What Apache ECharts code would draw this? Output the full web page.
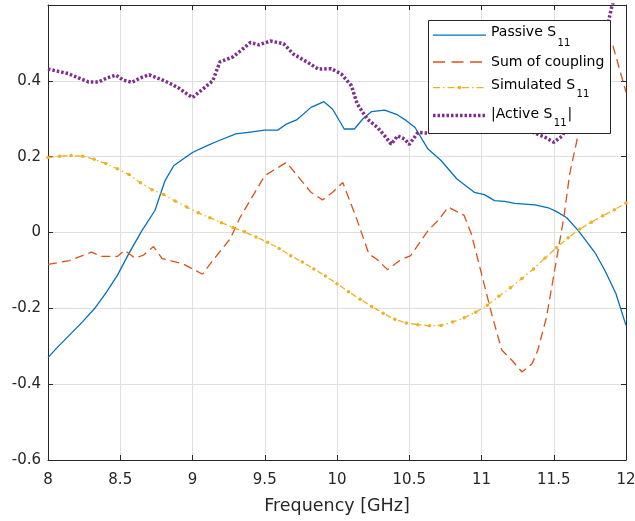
<!DOCTYPE html>
<html>
<head>
<meta charset="utf-8">
<title>S11 comparison</title>
<script src="https://cdn.jsdelivr.net/npm/echarts@6/dist/echarts.min.js"></script>
<style>
  html, body { margin: 0; padding: 0; background: #ffffff; }
  #chart { width: 635px; height: 521px; }
</style>
</head>
<body>
<div id="chart"></div>
<script>
// Frequency sweep (GHz) and reflection values for each curve
const passiveFreq = [8.00, 8.06, 8.15, 8.24, 8.33, 8.40, 8.48, 8.56, 8.65, 8.74, 8.81, 8.87, 8.94, 9.00, 9.09,
  9.18, 9.30, 9.40, 9.50, 9.59, 9.65, 9.72, 9.82, 9.91, 9.97, 10.05, 10.12, 10.18, 10.24, 10.33, 10.42,
  10.48, 10.54, 10.63, 10.72, 10.83, 10.95, 11.02, 11.09, 11.16, 11.23, 11.37, 11.47, 11.52, 11.59, 11.67,
  11.79, 11.86, 11.93, 12.00];
const passiveS11 = [-0.33, -0.305, -0.27, -0.235, -0.197, -0.16, -0.113, -0.055, 0.005, 0.058, 0.137, 0.176, 0.195, 0.211, 0.227,
  0.242, 0.26, 0.265, 0.27, 0.27, 0.286, 0.297, 0.33, 0.345, 0.325, 0.273, 0.273, 0.30, 0.319, 0.323, 0.31,
  0.295, 0.277, 0.22, 0.19, 0.141, 0.106, 0.10, 0.084, 0.082, 0.077, 0.073, 0.064, 0.055, 0.039, 0.005,
  -0.056, -0.105, -0.161, -0.245];

const couplingFreq = [8.00, 8.15, 8.30, 8.37, 8.48, 8.53, 8.60, 8.66, 8.73, 8.79, 8.93, 9.07, 9.14, 9.26, 9.33,
  9.50, 9.65, 9.82, 9.90, 9.97, 10.04, 10.14, 10.22, 10.28, 10.35, 10.44, 10.51, 10.63, 10.70, 10.77,
  10.88, 10.93, 11.00, 11.07, 11.14, 11.21, 11.28, 11.35, 11.39, 11.45, 11.51, 11.57, 11.61, 11.66,
  11.79, 11.91, 12.00];
const couplingSum = [-0.084, -0.074, -0.052, -0.063, -0.063, -0.047, -0.067, -0.06, -0.037, -0.069, -0.082, -0.11, -0.074, -0.017, 0.04,
  0.15, 0.185, 0.106, 0.086, 0.106, 0.132, 0.032, -0.056, -0.072, -0.098, -0.072, -0.061, 0.005, 0.032, 0.067,
  0.045, -0.004, -0.109, -0.214, -0.31, -0.337, -0.368, -0.346, -0.31, -0.223, -0.091, 0.04, 0.154, 0.242,
  0.53, 0.492, 0.37];

const simFreq = [8.00, 8.08, 8.16, 8.24, 8.32, 8.40, 8.48, 8.56, 8.64, 8.72, 8.80, 8.88, 8.96, 9.04, 9.12, 9.20,
  9.28, 9.36, 9.44, 9.52, 9.60, 9.68, 9.76, 9.84, 9.92, 10.00, 10.08, 10.16, 10.24, 10.32, 10.40, 10.48,
  10.56, 10.64, 10.72, 10.80, 10.88, 10.96, 11.04, 11.12, 11.20, 11.28, 11.36, 11.44, 11.52, 11.60, 11.68,
  11.76, 11.84, 11.92, 12.00];
const simS11 = [0.198, 0.201, 0.203, 0.201, 0.193, 0.182, 0.168, 0.153, 0.131, 0.113, 0.100, 0.083, 0.067, 0.052, 0.039, 0.026,
  0.013, 0.002, -0.012, -0.026, -0.042, -0.061, -0.078, -0.096, -0.115, -0.135, -0.156, -0.176, -0.195, -0.213, -0.229, -0.239,
  -0.243, -0.246, -0.245, -0.236, -0.225, -0.210, -0.192, -0.168, -0.146, -0.121, -0.096, -0.067, -0.040, -0.014, 0.009,
  0.027, 0.044, 0.060, 0.078];

const activeFreq = [8.00, 8.07, 8.14, 8.21, 8.28, 8.35, 8.41, 8.47, 8.52, 8.58, 8.64, 8.70, 8.78, 8.84, 8.90, 8.96,
  9.00, 9.07, 9.14, 9.19, 9.28, 9.36, 9.40, 9.46, 9.54, 9.63, 9.70, 9.80, 9.87, 9.96, 10.03, 10.10, 10.14,
  10.21, 10.28, 10.33, 10.375, 10.42, 10.47, 10.50, 10.56, 10.63, 10.75, 10.90, 11.05, 11.20, 11.35, 11.44,
  11.50, 11.56, 11.70, 11.80, 11.88, 11.90, 12.00];
const activeS11 = [0.431, 0.425, 0.419, 0.408, 0.397, 0.397, 0.408, 0.415, 0.402, 0.396, 0.408, 0.416, 0.404, 0.394, 0.382, 0.366,
  0.356, 0.378, 0.40, 0.45, 0.463, 0.488, 0.501, 0.495, 0.505, 0.498, 0.47, 0.448, 0.431, 0.432, 0.418, 0.387, 0.339,
  0.299, 0.277, 0.255, 0.233, 0.255, 0.246, 0.232, 0.264, 0.262, 0.275, 0.295, 0.305, 0.29, 0.265, 0.251,
  0.238, 0.255, 0.38, 0.47, 0.558, 0.593, 0.72];

// Axis ticks
const xTicks = { min: 8, max: 12, step: 0.5 };
const yTicks = { min: -0.6, max: 0.6, step: 0.2 };

// Legend entries: main text and subscript
const legendMain = ['Passive S', 'Sum of coupling', 'Simulated S', '|Active S'];
const legendSub = ['11', '', '11', '11'];
const legendTail = ['', '', '', '|'];

const zip = (xs, ys) => xs.map((x, i) => [x, ys[i]]);

const FONT = 'DejaVu Sans';
const INK = '#262626';
const colors = ['#0072BD', '#D95319', '#EDB120', '#7E2F8E'];
const widths = [1.3, 1.3, 1.3, 3.5];
const plotDash = ['solid', [9, 5], [6, 3, 1.5, 3], [2.5, 2]];
const keyDash = [null, [12, 6.5], [7, 3, 1.5, 3], [2.5, 2]];

// Legend box geometry (pixels)
const key = {
  box: { x: 428.5, y: 20.5, w: 182, h: 113 },
  lineX1: 433, lineX2: 486, textX: 491,
  lineY: [35.2, 62, 87.6, 115.4],
  textY: [32.6, 62, 85, 114.6],
  subY: [43, 0, 94, 123.7],
  mainFont: '14px "DejaVu Sans"',
  subFont: '10px "DejaVu Sans"'
};

const measure = (() => {
  const ctx = document.createElement('canvas').getContext('2d');
  return (text, font) => { ctx.font = font; return ctx.measureText(text).width; };
})();

function legendGraphics() {
  const els = [{
    type: 'rect', z: 100, silent: true,
    shape: { x: key.box.x, y: key.box.y, width: key.box.w, height: key.box.h },
    style: { fill: '#ffffff', stroke: INK, lineWidth: 1 }
  }];
  legendMain.forEach((label, i) => {
    const y = key.lineY[i];
    els.push({
      type: 'line', z: 101, silent: true,
      shape: { x1: key.lineX1, y1: y, x2: key.lineX2, y2: y },
      style: { stroke: colors[i], lineWidth: widths[i], lineDash: keyDash[i] || null, lineCap: 'butt' }
    });
    if (i === 2) {
      els.push({
        type: 'circle', z: 102, silent: true,
        shape: { cx: (key.lineX1 + key.lineX2) / 2, cy: y, r: 1.8 },
        style: { fill: colors[2] }
      });
    }
    els.push({
      type: 'text', z: 101, silent: true,
      style: { x: key.textX, y: key.textY[i], text: label, font: key.mainFont, fill: '#000000', verticalAlign: 'middle', align: 'left' }
    });
    if (legendSub[i]) {
      const subX = key.textX + measure(label, key.mainFont) + 1.5;
      els.push({
        type: 'text', z: 101, silent: true,
        style: { x: subX, y: key.subY[i], text: legendSub[i], font: key.subFont, fill: '#000000', verticalAlign: 'middle', align: 'left' }
      });
      if (legendTail[i]) {
        els.push({
          type: 'text', z: 101, silent: true,
          style: { x: subX + measure(legendSub[i], key.subFont) + 1, y: key.textY[i], text: legendTail[i], font: key.mainFont, fill: '#000000', verticalAlign: 'middle', align: 'left' }
        });
      }
    }
  });
  return els;
}

const chart = echarts.init(document.getElementById('chart'), null, { renderer: 'canvas' });

const frameAxis = (extra) => Object.assign({
  type: 'value',
  axisLine: { show: true, onZero: false, lineStyle: { color: INK, width: 1 } },
  axisTick: { show: true, inside: true, length: 5, lineStyle: { color: INK, width: 1 } },
  splitLine: { show: false },
  axisLabel: { show: false }
}, extra);

const seriesNames = ['Passive S11', 'Sum of coupling', 'Simulated S11', '|Active S11|'];
const seriesData = [zip(passiveFreq, passiveS11), zip(couplingFreq, couplingSum), zip(simFreq, simS11), zip(activeFreq, activeS11)];

chart.setOption({
  animation: false,
  backgroundColor: '#ffffff',
  color: colors,
  grid: {
    left: 48, right: 9, top: 5, bottom: 61,
    containLabel: false,
    outerBoundsMode: 'none'
  },
  legend: { show: false },
  xAxis: [
    frameAxis({
      position: 'bottom',
      min: xTicks.min, max: xTicks.max, interval: xTicks.step,
      name: 'Frequency [GHz]',
      nameLocation: 'middle',
      nameGap: 37,
      nameTextStyle: { fontFamily: FONT, fontSize: 17.5, color: INK },
      axisLabel: { show: true, margin: 13, fontFamily: FONT, fontSize: 15, color: INK },
      splitLine: { show: true, lineStyle: { color: '#dfdfdf', width: 1 } }
    }),
    frameAxis({ position: 'top', min: xTicks.min, max: xTicks.max, interval: xTicks.step })
  ],
  yAxis: [
    frameAxis({
      position: 'left',
      min: yTicks.min, max: yTicks.max, interval: yTicks.step,
      axisLabel: {
        show: true, margin: 7, fontFamily: FONT, fontSize: 15, color: INK,
        formatter: (v) => (v > 0.55 ? '' : String(Math.round(v * 10) / 10))
      },
      splitLine: { show: true, lineStyle: { color: '#dfdfdf', width: 1 } }
    }),
    frameAxis({ position: 'right', min: yTicks.min, max: yTicks.max, interval: yTicks.step })
  ],
  graphic: legendGraphics(),
  series: seriesNames.map((name, i) => ({
    name: name, type: 'line', xAxisIndex: 0, yAxisIndex: 0,
    data: seriesData[i],
    symbol: i === 2 ? 'circle' : 'none',
    symbolSize: 3.5,
    showSymbol: i === 2,
    showAllSymbol: true,
    smooth: false, clip: true, z: 3,
    itemStyle: { color: colors[i], borderWidth: 0 },
    lineStyle: { color: colors[i], width: widths[i], type: plotDash[i], cap: 'butt' }
  }))
});
</script>
</body>
</html>
